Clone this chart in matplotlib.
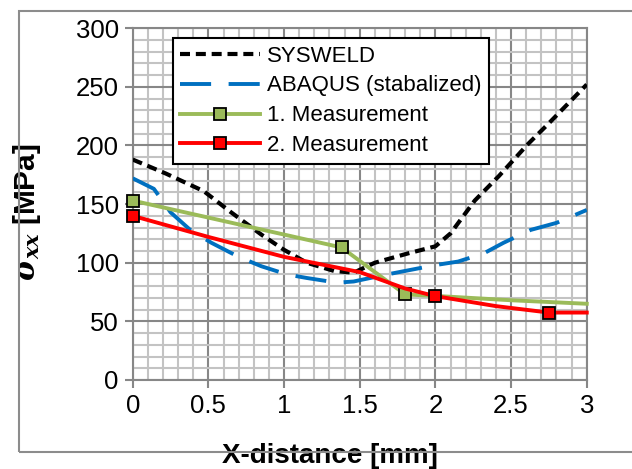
import matplotlib
matplotlib.use('Agg')
import matplotlib.pyplot as plt
from matplotlib.patches import Rectangle
from matplotlib.ticker import MultipleLocator

plt.rcParams['font.family'] = ['Liberation Sans', 'DejaVu Sans']
plt.rcParams['mathtext.fontset'] = 'custom'
plt.rcParams['mathtext.it'] = 'DejaVu Serif:italic:bold'
plt.rcParams['mathtext.rm'] = 'DejaVu Serif:bold'

# --- data ---
sysweld_x = [0, 0.22, 0.47, 0.65, 0.85, 1.0, 1.15, 1.33, 1.46, 1.6, 1.82, 2.0, 2.1, 2.26, 2.42, 2.61, 2.75, 3.0]
sysweld_y = [188, 176, 161, 143, 124, 111, 100, 93, 91.5, 100, 108, 114, 125, 153, 174, 201, 219, 252]

abaqus_x = [0, 0.14, 0.25, 0.38, 0.52, 0.7, 0.85, 1.02, 1.15, 1.35, 1.46, 1.68, 1.8, 2.0, 2.15, 2.32, 2.45, 2.63, 2.8, 3.0]
abaqus_y = [172, 163, 143, 128, 117, 105, 97, 90, 87, 83, 84, 90, 93, 98, 101, 108, 117, 128, 134, 145]

meas1_x = [0, 1.38, 1.8, 2.03, 2.5, 3.0]
meas1_y = [153, 113, 73, 71.5, 68, 65]
meas1_marks = [0, 1, 2]

meas2_x = [0, 0.5, 1.0, 1.5, 1.8, 2.0, 2.4, 2.75, 3.0]
meas2_y = [140, 122, 105, 92, 78, 71.5, 63, 57.5, 57.5]
meas2_marks = [0, 5, 7]

fig = plt.figure(figsize=(6.32, 4.69), dpi=100)
ax = fig.add_axes([0.21, 0.1898, 0.7184, 0.750])

# outer chart frame (Excel chart area)
fig.patches.append(Rectangle((0.030, 0.036), 1.2, 0.940, transform=fig.transFigure,
                             fill=False, edgecolor='#8c8c8c', lw=1.5, zorder=0))

ax.plot(sysweld_x, sysweld_y, color='black', lw=3.0, dashes=(2.4, 1.4),
        label='SYSWELD', zorder=4)
ax.plot(abaqus_x, abaqus_y, color='#0070C0', lw=2.8, dashes=(8, 4.5),
        label='ABAQUS (stabalized)', zorder=4)
ax.plot(meas1_x, meas1_y, color='#9BBB59', lw=2.8, marker='s', markersize=8.5,
        markerfacecolor='#9BBB59', markeredgecolor='black', markeredgewidth=1.3,
        markevery=meas1_marks, label='1. Measurement', zorder=5, clip_on=False)
ax.plot(meas2_x, meas2_y, color='#FF0000', lw=2.8, marker='s', markersize=8.5,
        markerfacecolor='#FF0000', markeredgecolor='black', markeredgewidth=1.3,
        markevery=meas2_marks, label='2. Measurement', zorder=6, clip_on=False)

ax.set_xlim(0, 3)
ax.set_ylim(0, 300)
ax.xaxis.set_major_locator(MultipleLocator(0.5))
ax.xaxis.set_minor_locator(MultipleLocator(0.1))
ax.yaxis.set_major_locator(MultipleLocator(50))
ax.yaxis.set_minor_locator(MultipleLocator(10))
ax.set_xticks([0, 0.5, 1, 1.5, 2, 2.5, 3])
ax.set_xticklabels(['0', '0.5', '1', '1.5', '2', '2.5', '3'])

ax.grid(which='minor', color='#c3c3c3', lw=1.5, zorder=1)
ax.grid(which='major', color='#878787', lw=1.5, zorder=2)
ax.set_axisbelow(True)
for s in ax.spines.values():
    s.set_color('#878787')
    s.set_linewidth(1.5)
ax.tick_params(which='major', length=6, width=1.5, color='#878787',
               labelsize=18.5, pad=4)
ax.tick_params(which='minor', length=0)

ax.set_xlabel('X-distance [mm]', fontsize=20, fontweight='bold')
ax.xaxis.set_label_coords(0.4345, -0.178)
ax.set_ylabel(r'$\sigma_{xx}$ [MPa]', fontsize=21.5, fontweight='bold')
ax.yaxis.set_label_coords(-0.198, 0.478)

leg = ax.legend(loc='upper left', bbox_to_anchor=(0.088, 0.973), borderaxespad=0,
                fontsize=16, handlelength=3.6, handletextpad=0.3, numpoints=1,
                labelspacing=0.4, fancybox=False, framealpha=1,
                borderpad=0.35, markerscale=1.0)
leg.get_frame().set_edgecolor('black')
leg.get_frame().set_linewidth(1.5)

fig.savefig('out.png', dpi=100)
